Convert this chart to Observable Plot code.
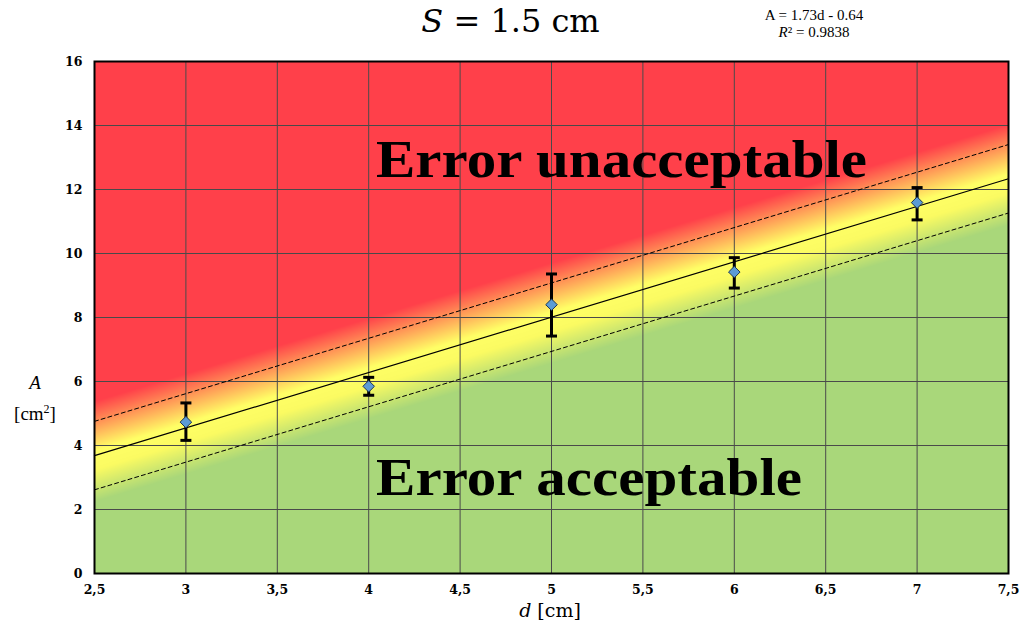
<!DOCTYPE html>
<html>
<head>
<meta charset="utf-8">
<script src="https://cdn.jsdelivr.net/npm/d3@7"></script>
<script src="https://cdn.jsdelivr.net/npm/@observablehq/plot@0.6"></script>
<style>
  html, body { margin: 0; padding: 0; background: #fff; }
  #wrap { position: relative; width: 1021px; height: 630px; overflow: hidden; }
  .abs { position: absolute; font-family: "DejaVu Serif", serif; color: #000; white-space: nowrap; }
  #title { left: 0; width: 1021px; top: 1px; text-align: center; font-size: 32px; line-height: 40px; }
  #eq { left: 755px; width: 118px; top: 7px; text-align: center; font-size: 15px; line-height: 17px; font-family: "Liberation Serif", serif; }
  #ylab { left: 5px; width: 60px; top: 369px; text-align: center; font-size: 19px; line-height: 27px; font-family: "Liberation Serif", serif; }
  #xlab { left: 460px; width: 180px; top: 599px; text-align: center; font-size: 19px; }
</style>
</head>
<body>
<div id="wrap">
  <div id="chart"></div>
  <div class="abs" id="title"><i>S</i> = 1.5 cm</div>
  <div class="abs" id="eq">A = 1.73d - 0.64<br><i>R</i>² = 0.9838</div>
  <div class="abs" id="ylab"><i>A</i><br>[cm<sup style="font-size:12px">2</sup>]</div>
  <div class="abs" id="xlab"><i>d</i> [cm]</div>
</div>
<script>
// ---- data ----
const distances = [3, 4, 5, 6, 7];                 // d [cm]
const areas     = [4.73, 5.85, 8.40, 9.42, 11.59]; // A [cm²]
const errLow    = [4.16, 5.57, 7.42, 8.92, 11.05];
const errHigh   = [5.33, 6.13, 9.36, 9.87, 12.06];
const xTicks = [2.5, 3, 3.5, 4, 4.5, 5, 5.5, 6, 6.5, 7, 7.5];
const yTicks = [0, 2, 4, 6, 8, 10, 12, 14, 16];
const fitSlope = 1.73, fitIntercept = -0.64;  // A = 1.73d - 0.64
const bandHalf = 1.07;                        // dashed tolerance lines
const xDomain = [2.5, 7.5], yDomain = [0, 16];
const zoneLabels = ["Error unacceptable", "Error acceptable"];
const zoneLabelX = [4.04, 4.04];
const zoneLabelY = [12.92, 2.96];
const zoneLabelWidth = [491, 426];
// background zones: offset from the fit line -> colour
const zoneOffsets = [-1.45, -0.45, 0.15, 1.7];
const zoneColors  = ["#a9d77a", "#fbfb62", "#ffff66", "#ff404a"];

const points = distances.map((d, i) => ({d, A: areas[i], lo: errLow[i], hi: errHigh[i]}));
const fitLine = (off) => xDomain.map(d => ({d, A: fitSlope * d + fitIntercept + off}));
const commaFmt = d => String(d).replace(".", ",");

const capSymbol = { draw(ctx, size) { ctx.moveTo(-5.5, 0); ctx.lineTo(5.5, 0); } };

const chart = Plot.plot({
  width: 1021, height: 630,
  marginTop: 61, marginBottom: 57, marginLeft: 94, marginRight: 13,
  style: { fontFamily: "DejaVu Serif, serif", fontSize: "12.5px", fontWeight: "bold", background: "transparent" },
  x: { domain: xDomain, label: null },
  y: { domain: yDomain, label: null },
  color: { type: "linear", domain: zoneOffsets, range: zoneColors, clamp: true },
  marks: [
    Plot.raster({ x1: xDomain[0], x2: xDomain[1], y1: yDomain[0], y2: yDomain[1], pixelSize: 1,
      fill: (x, y) => y - (fitSlope * x + fitIntercept) }),
    Plot.gridX(xTicks, { stroke: "#4a4a4a", strokeOpacity: 1, strokeWidth: 1 }),
    Plot.gridY(yTicks, { stroke: "#4a4a4a", strokeOpacity: 1, strokeWidth: 1 }),
    Plot.axisX({ ticks: xTicks, tickSize: 0, tickPadding: 12, tickFormat: commaFmt, label: null }),
    Plot.axisY({ ticks: yTicks, tickSize: 0, tickPadding: 12, label: null }),
    Plot.text(zoneLabels, { x: (d, i) => zoneLabelX[i], y: (d, i) => zoneLabelY[i], text: d => d,
      textAnchor: "start", fontSize: 52, fontWeight: "bold", fontFamily: "Liberation Serif, serif", fill: "#000",
      className: "zone-label" }),
    Plot.line(fitLine(bandHalf), { x: "d", y: "A", stroke: "#000", strokeWidth: 1, strokeDasharray: "4,3" }),
    Plot.line(fitLine(-bandHalf), { x: "d", y: "A", stroke: "#000", strokeWidth: 1, strokeDasharray: "4,3" }),
    Plot.line(fitLine(0), { x: "d", y: "A", stroke: "#000", strokeWidth: 1.2 }),
    Plot.ruleX(points, { x: "d", y1: "lo", y2: "hi", stroke: "#000", strokeWidth: 3 }),
    Plot.dot(points, { x: "d", y: "lo", symbol: capSymbol, stroke: "#000", strokeWidth: 3, r: 5 }),
    Plot.dot(points, { x: "d", y: "hi", symbol: capSymbol, stroke: "#000", strokeWidth: 3, r: 5 }),
    Plot.dot(points, { x: "d", y: "A", symbol: "diamond2", r: 5.2, fill: "#5b9bd5", stroke: "#1d3550", strokeWidth: 1 }),
    Plot.frame({ stroke: "#000", strokeWidth: 2 })
  ]
});
// stretch the zone labels to the width of the original's wider serif face
chart.querySelectorAll(".zone-label text").forEach((t, i) => {
  t.setAttribute("textLength", zoneLabelWidth[i]);
  t.setAttribute("lengthAdjust", "spacingAndGlyphs");
});
document.getElementById("chart").appendChild(chart);
</script>
</body>
</html>
